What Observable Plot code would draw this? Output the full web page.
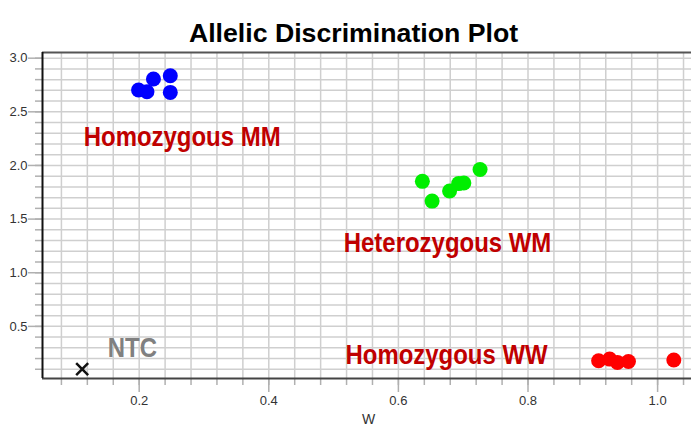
<!DOCTYPE html>
<html><head><meta charset="utf-8">
<script src="https://cdn.jsdelivr.net/npm/d3@7"></script>
<script src="https://cdn.jsdelivr.net/npm/@observablehq/plot@0.6"></script>
<style>body{margin:0;background:#fff}</style>
</head><body><div id="chart"></div>
<script>
// Data
const mmX = [0.199, 0.212, 0.222, 0.248, 0.248];
const mmY = [2.703, 2.687, 2.806, 2.836, 2.681];
const wmX = [0.637, 0.652, 0.679, 0.693, 0.701, 0.726];
const wmY = [1.852, 1.668, 1.762, 1.831, 1.837, 1.962];
const wwX = [0.909, 0.926, 0.938, 0.955, 1.025];
const wwY = [0.179, 0.195, 0.164, 0.173, 0.186];
const ntcX = [0.112];
const ntcY = [0.102];

const labelText = ["Homozygous MM", "Heterozygous WM", "Homozygous WW", "NTC"];
const labelX = [0.1145, 0.5157, 0.5184, 0.1515];
const labelY = [2.266, 1.276, 0.233, 0.294];
const labelColor = ["#c00000", "#c00000", "#c00000", "#808080"];

const xMajor = [0.2, 0.4, 0.6, 0.8, 1.0];
const xMinor = [0.08, 0.12, 0.16, 0.2, 0.24, 0.28, 0.32, 0.36, 0.4, 0.44, 0.48, 0.52, 0.56, 0.6, 0.64, 0.68, 0.72, 0.76, 0.8, 0.84, 0.88, 0.92, 0.96, 1.0, 1.04];
const yMajor = [0.5, 1.0, 1.5, 2.0, 2.5, 3.0];
const yMinor = [0.1, 0.2, 0.3, 0.4, 0.5, 0.6, 0.7, 0.8, 0.9, 1.0, 1.1, 1.2, 1.3, 1.4, 1.5, 1.6, 1.7, 1.8, 1.9, 2.0, 2.1, 2.2, 2.3, 2.4, 2.5, 2.6, 2.7, 2.8, 2.9, 3.0];
const xDomain = [0.0508, 1.0523];
const yDomain = [0.014, 3.053];

const title = "Allelic Discrimination Plot";
const xLabel = "W";

const toPts = (xs, ys) => xs.map((x, i) => ({x, y: ys[i]}));
const labels = labelText.map((t, i) => ({t, x: labelX[i], y: labelY[i], c: labelColor[i]}));

const gridStyle = {stroke: "#cfcfcf", strokeWidth: 1.5, strokeOpacity: 1};
const tickStyle = {stroke: "#b0b0b0", strokeWidth: 1.5, strokeOpacity: 1};

const chart = Plot.plot({
  width: 691, height: 433,
  marginLeft: 42, marginRight: 0, marginTop: 52, marginBottom: 55,
  style: {fontFamily: "'Liberation Sans', Arial, sans-serif", background: "#fff"},
  x: {domain: xDomain, axis: null},
  y: {domain: yDomain, axis: null},
  marks: [
    Plot.ruleX(xMinor, {x: d => d, ...gridStyle}),
    Plot.ruleY(yMinor, {y: d => d, ...gridStyle}),
    Plot.axisX({ticks: xMinor, tickSize: 7, tickFormat: () => "", label: null, ...tickStyle}),
    Plot.axisX({ticks: xMajor, tickSize: 14, tickPadding: 3, tickFormat: d3.format(".1f"), label: null, fontSize: 13, fill: "#333", ...tickStyle}),
    Plot.axisY({ticks: yMinor, tickSize: 7, tickFormat: () => "", label: null, ...tickStyle}),
    Plot.axisY({ticks: yMajor, tickSize: 14, tickPadding: 1, tickFormat: d3.format(".1f"), label: null, fontSize: 13, fill: "#333", ...tickStyle}),
    Plot.ruleY([yDomain[1]], {stroke: "#555", strokeWidth: 2}),
    Plot.ruleY([yDomain[0]], {stroke: "#444", strokeWidth: 2}),
    Plot.ruleX([xDomain[0]], {stroke: "#111", strokeWidth: 2}),
    Plot.dot(toPts(mmX, mmY), {x: "x", y: "y", r: 7.5, fill: "#0000ff"}),
    Plot.dot(toPts(wmX, wmY), {x: "x", y: "y", r: 7.5, fill: "#00ee00"}),
    Plot.dot(toPts(wwX, wwY), {x: "x", y: "y", r: 7.5, fill: "#ff0000"}),
    Plot.dot(toPts(ntcX, ntcY), {x: "x", y: "y", symbol: "times", r: 5.5, stroke: "#111", strokeWidth: 2.5}),
    Plot.text(labels, {x: "x", y: "y", text: "t", fill: "c", textAnchor: "start", fontSize: 28, fontWeight: "bold", className: "glabel"}),
    Plot.text([title], {text: d => d, frameAnchor: "top", dy: -29, dx: -13.5, fontSize: 26.7, fontWeight: "bold", fill: "#000"}),
    Plot.text([xLabel], {text: d => d, frameAnchor: "bottom", dy: 45, dx: 1.5, fontSize: 14, fill: "#333"})
  ]
});
document.getElementById("chart").appendChild(chart);
// Condense the group labels horizontally (narrow bold face in the reference)
let labelNodes = chart.querySelectorAll(".glabel text");
if (!labelNodes.length) labelNodes = Array.from(chart.querySelectorAll("text")).filter(t => labelText.includes(t.textContent));
labelNodes.forEach(t => {
  const w = t.getComputedTextLength();
  t.setAttribute("textLength", (w * 0.855).toFixed(1));
  t.setAttribute("lengthAdjust", "spacingAndGlyphs");
});
</script></body></html>
